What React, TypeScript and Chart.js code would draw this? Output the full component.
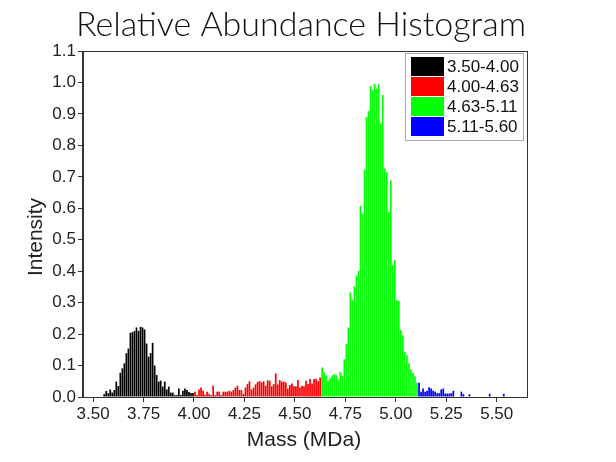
import React, { useEffect, useRef } from 'react';
import { Chart, registerables } from 'chart.js';

Chart.register(...registerables);

const chartTitle = 'Relative Abundance Histogram';
const xAxisTitle = 'Mass (MDa)';
const yAxisTitle = 'Intensity';

const binWidth = 0.01;
const seriesLabels = ['3.50-4.00', '4.00-4.63', '4.63-5.11', '5.11-5.60'];
const seriesColors = ['#000000', '#ff0000', '#00ff00', '#0000ff'];
const seriesStarts = [3.5, 4.0, 4.63, 5.11];

const blackValues = [
  0, 0, 0, 0, 0, 0.009, 0.019, 0.012, 0.024, 0.014,
  0.022, 0.049, 0.035, 0.077, 0.091, 0.107, 0.139, 0.154, 0.204, 0.206,
  0.21, 0.221, 0.21, 0.223, 0.221, 0.215, 0.17, 0.128, 0.14, 0.172,
  0.1, 0.07, 0.049, 0.052, 0.033, 0.049, 0.024, 0.033, 0.014, 0.014,
  0.006, 0.006, 0.027, 0.006, 0.02, 0.027, 0.022, 0.016, 0.013, 0.013,
];
const redValues = [
  0.017, 0.006, 0.024, 0.03, 0.02, 0.008, 0.017, 0.01, 0.006, 0.036,
  0.006, 0.017, 0.017, 0.006, 0.017, 0.017, 0.017, 0.02, 0.017, 0.022,
  0.03, 0.036, 0.022, 0.022, 0.01, 0.03, 0.041, 0.05, 0.024, 0.03,
  0.04, 0.048, 0.051, 0.046, 0.05, 0.036, 0.053, 0.052, 0.034, 0.041,
  0.075, 0.04, 0.054, 0.049, 0.049, 0.046, 0.027, 0.038, 0.043, 0.034,
  0.034, 0.054, 0.03, 0.036, 0.034, 0.052, 0.041, 0.057, 0.043, 0.057,
  0.057, 0.05, 0.062,
];
const greenValues = [
  0.094, 0.079, 0.069, 0.052, 0.06, 0.069, 0.073, 0.069, 0.056, 0.079,
  0.067, 0.12, 0.168, 0.221, 0.333, 0.308, 0.352, 0.386, 0.401, 0.608,
  0.583, 0.723, 0.89, 0.909, 0.989, 0.975, 0.996, 0.981, 0.994, 0.87,
  0.96, 0.726, 0.715, 0.588, 0.689, 0.419, 0.435, 0.308, 0.306, 0.213,
  0.196, 0.144, 0.133, 0.107, 0.088, 0.077, 0.065, 0.046,
];
const blueValues = [
  0.045, 0.017, 0.027, 0.017, 0.02, 0.031, 0.027, 0.02, 0.017, 0.012,
  0.012, 0.024, 0.027, 0.011, 0.011, 0.011, 0.012, 0.02, 0, 0,
  0, 0.017, 0.009, 0, 0, 0.009, 0, 0, 0, 0,
  0, 0, 0, 0, 0, 0.01, 0, 0, 0, 0,
  0, 0, 0.01, 0, 0, 0, 0, 0, 0,
];
const seriesValues = [blackValues, redValues, greenValues, blueValues];

const xTicks = [3.5, 3.75, 4.0, 4.25, 4.5, 4.75, 5.0, 5.25, 5.5];
const yTicks = [0, 0.1, 0.2, 0.3, 0.4, 0.5, 0.6, 0.7, 0.8, 0.9, 1.0, 1.1];

const SANS = '"Liberation Sans", Arial, sans-serif';

const decorPlugin = {
  id: 'decor',
  afterDraw(chart: any) {
    const { ctx, chartArea } = chart;
    const { left, right, top, bottom } = chartArea;
    ctx.save();
    // frame
    ctx.strokeStyle = '#333';
    ctx.lineWidth = 1;
    ctx.strokeRect(Math.round(left) - 0.5, Math.round(top) + 0.5, Math.round(right - left) + 1, Math.round(bottom - top));

    // title
    ctx.fillStyle = '#111';
    ctx.font = '300 34px Lato, "Noto Sans", sans-serif';
    ctx.textAlign = 'center';
    ctx.textBaseline = 'alphabetic';
    ctx.fillText(chartTitle, 293, 28);

    // axis titles
    ctx.font = `21px ${SANS}`;
    ctx.fillStyle = '#222';
    ctx.textBaseline = 'middle';
    ctx.fillText(xAxisTitle, 296, 432);
    ctx.save();
    ctx.translate(28, 229);
    ctx.rotate(-Math.PI / 2);
    ctx.fillText(yAxisTitle, 0, 0);
    ctx.restore();

    // legend
    const lx = 397;
    const ly = 45;
    const lw = 118;
    const lh = 87;
    ctx.fillStyle = '#fff';
    ctx.fillRect(lx, ly, lw, lh);
    ctx.strokeStyle = '#aaa';
    ctx.strokeRect(lx + 0.5, ly + 0.5, lw, lh);
    ctx.font = `17px ${SANS}`;
    ctx.textAlign = 'left';
    ctx.textBaseline = 'middle';
    seriesLabels.forEach((lab, k) => {
      const ry = ly + 4 + k * 20;
      ctx.fillStyle = seriesColors[k];
      ctx.fillRect(lx + 6, ry, 33, 19);
      ctx.fillStyle = '#111';
      ctx.fillText(lab, lx + 42, ry + 10);
    });
    ctx.restore();
  },
};

export default function App() {
  const ref = useRef<HTMLCanvasElement>(null);
  useEffect(() => {
    if (!ref.current) return;
    const datasets = seriesValues.map((vals, k) => ({
      label: seriesLabels[k],
      data: vals.map((v, i) => ({ x: +(seriesStarts[k] + (i + 0.5) * binWidth).toFixed(4), y: v })),
      backgroundColor: seriesColors[k],
      borderWidth: 0,
      grouped: false,
      barPercentage: 0.85,
      categoryPercentage: 1,
    }));
    const chart = new Chart(ref.current, {
      type: 'bar',
      data: { datasets } as any,
      options: {
        animation: false,
        responsive: false,
        maintainAspectRatio: false,
        layout: { padding: { top: 43, right: 81, left: 0, bottom: 0 } },
        plugins: {
          legend: { display: false },
          title: { display: false },
          tooltip: { enabled: false },
        },
        scales: {
          x: {
            type: 'linear',
            min: 3.45,
            max: 5.65,
            offset: false,
            afterBuildTicks: (s: any) => {
              s.ticks = xTicks.map((v) => ({ value: v }));
            },
            afterFit: (s: any) => {
              s.height = 57;
            },
            ticks: {
              callback: (v: any) => Number(v).toFixed(2),
              font: { size: 17, family: SANS },
              color: '#222',
              padding: 2,
              maxRotation: 0,
              autoSkip: false,
            },
            grid: {
              display: true,
              offset: false,
              drawOnChartArea: false,
              drawTicks: true,
              tickLength: 5,
              color: '#333',
            },
            border: { display: true, color: '#333' },
          },
          y: {
            type: 'linear',
            min: 0,
            max: 1.1,
            afterBuildTicks: (s: any) => {
              s.ticks = yTicks.map((v) => ({ value: v }));
            },
            afterFit: (s: any) => {
              s.width = 75;
            },
            ticks: {
              callback: (v: any) => Number(v).toFixed(1),
              font: { size: 17, family: SANS },
              color: '#222',
              padding: 2,
              autoSkip: false,
            },
            grid: {
              display: true,
              drawOnChartArea: false,
              drawTicks: true,
              tickLength: 5,
              color: '#333',
            },
            border: { display: true, color: '#333' },
          },
        },
      },
      plugins: [decorPlugin],
    } as any);
    return () => chart.destroy();
  }, []);
  return <canvas ref={ref} width={600} height={446} style={{ display: 'block' }} />;
}
